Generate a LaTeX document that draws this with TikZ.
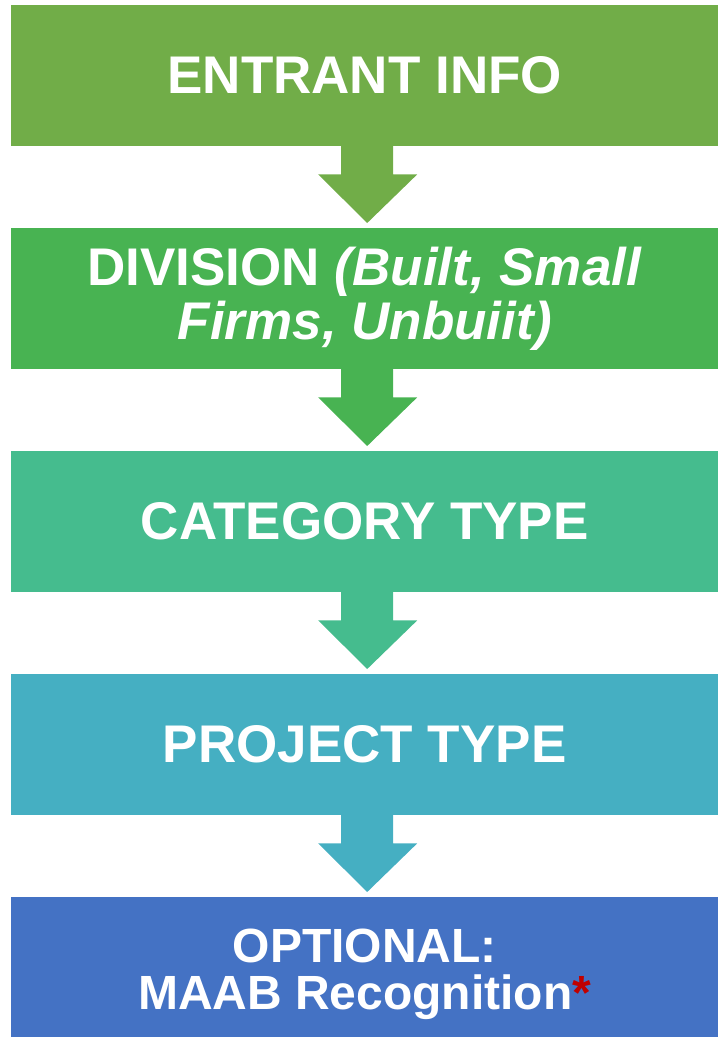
\documentclass[tikz,border=0pt]{standalone}
\usepackage{fontspec}
\setmainfont{Liberation Sans}

\definecolor{entrantgreen}{HTML}{71AD48}
\definecolor{divisiongreen}{HTML}{48B352}
\definecolor{categoryteal}{HTML}{45BC8E}
\definecolor{projectcyan}{HTML}{45AFC2}
\definecolor{optionalblue}{HTML}{4472C4}
\definecolor{asteriskred}{HTML}{C00000}

\begin{document}
\begin{tikzpicture}[
      x=1pt, y=-1pt,
      stage/.style={minimum width=707pt, minimum height=141pt, anchor=north west,
        inner sep=0pt, align=center, text=white,
        font=\bfseries\fontsize{53}{54}\selectfont},
      flow/.style={fill=#1}
    ]
      \useasboundingbox (0,0) rectangle (718,1037);

      % The five stages, top to bottom
      \node[stage, fill=entrantgreen] (entrant) at (11,5) {ENTRANT INFO};

      \node[stage, fill=divisiongreen] (division) at (11,228)
        {DIVISION \textit{(Built, Small}\\ \textit{Firms, Unbuiit)}};

      \node[stage, fill=categoryteal] (category) at (11,451) {CATEGORY TYPE};

      \node[stage, fill=projectcyan] (project) at (11,674) {PROJECT TYPE};

      \node[stage, fill=optionalblue, minimum height=140pt,
        text height=94pt, text depth=10pt,
        font=\bfseries\fontsize{48}{47}\selectfont] (optional) at (11,897)
        {OPTIONAL:\\ MAAB Recognition{\color{asteriskred}*}};

      % Block arrows between the stages (shaft 52pt, head 99pt)
      \foreach \from/\to/\col in {entrant/division/entrantgreen,
          division/category/divisiongreen, category/project/categoryteal,
          project/optional/projectcyan}
        \fill[flow=\col]
          ([shift={(-23.5,-1)}]\from.south) -- ++(0,29) -- ++(-23,0)
          -- ([xshift=2.5pt, yshift=5pt]\to.north)
          -- ([shift={(52.5,28)}]\from.south) -- ++(-24,0)
          -- ([shift={(28.5,-1)}]\from.south) -- cycle;
    \end{tikzpicture}
\end{document}
